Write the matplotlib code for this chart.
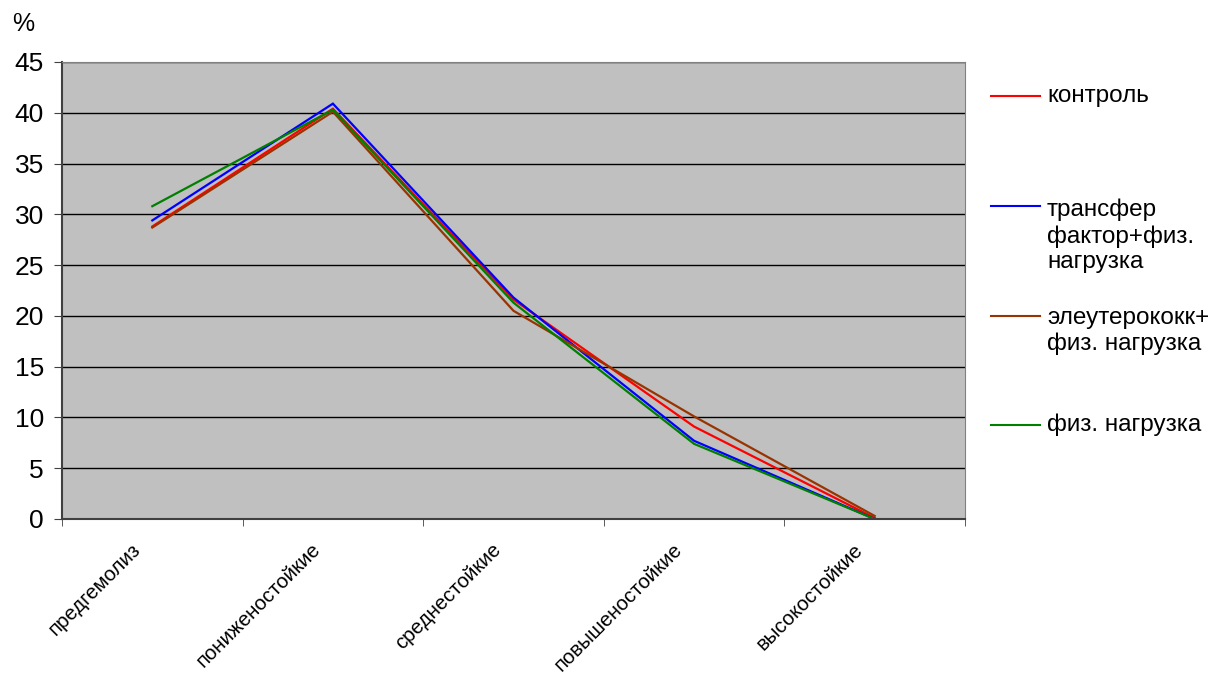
import matplotlib.pyplot as plt
from matplotlib.lines import Line2D
from matplotlib.transforms import ScaledTranslation
import numpy as np

plt.rcParams['font.family'] = ['Liberation Sans', 'DejaVu Sans']

categories = ['предгемолиз', 'пониженостойкие', 'среднестойкие',
              'повышеностойкие', 'высокостойкие']

control = [28.8, 40.4, 21.6, 9.1, 0.1]
transfer = [29.4, 40.9, 21.8, 7.7, 0.0]
eleuthero = [28.7, 40.1, 20.5, 10.1, 0.3]
exercise = [30.8, 40.3, 21.3, 7.4, 0.0]

series = [
    ('контроль', control, '#FF0000'),
    ('трансфер\nфактор+физ.\nнагрузка', transfer, '#0000FF'),
    ('элеутерококк+\nфиз. нагрузка', eleuthero, '#993300'),
    ('физ. нагрузка', exercise, '#008000'),
]

W, H = 1221, 678
fig = plt.figure(figsize=(W / 100, H / 100), dpi=100)
ax = fig.add_axes([62 / W, 1 - 519 / H, 903 / W, 457 / H])
ax.set_facecolor('#C0C0C0')

x = np.arange(len(categories)) + 0.5
for name, vals, color in series:
    ax.plot(x, vals, color=color, lw=1.6, solid_joinstyle='miter')

ax.set_xlim(0, len(categories))
ax.set_ylim(0, 45)
ax.set_yticks(np.arange(0, 46, 5))
ax.yaxis.grid(True, color='black', lw=1)
ax.set_axisbelow(True)

ax.set_xticks(x)
ax.set_xticklabels(categories, rotation=45, ha='right', va='center',
                   rotation_mode='anchor', fontsize=14.8)
ax.set_xticks(np.arange(len(categories) + 1), minor=True)
ax.tick_params(axis='x', which='major', length=0, pad=20)
ax.tick_params(axis='x', which='minor', length=5, direction='out', color='#404040')
ax.tick_params(axis='y', length=6, direction='out', labelsize=19, pad=7, color='#404040')

# nudge the slanted labels a little left of the category centre
shift = ScaledTranslation(-15 / 100, 0, fig.dpi_scale_trans)
for lab in ax.get_xticklabels():
    lab.set_transform(lab.get_transform() + shift)

for side in ('top', 'right'):
    ax.spines[side].set_color('#808080')
for side in ('left', 'bottom'):
    ax.spines[side].set_color('#404040')
    ax.spines[side].set_linewidth(1.5)

fig.text(23 / W, 1 - 24 / H, '%', fontsize=18, va='center', ha='center')

# legend drawn by hand to keep the uneven row spacing
legend_rows = [96, 206, 316, 425]
line_step = 30
for (name, vals, color), row in zip(series, legend_rows):
    yf = 1 - row / H
    fig.add_artist(Line2D([991 / W, 1040 / W], [yf, yf], color=color, lw=1.5))
    n = name.count('\n')
    fig.text(1047 / W, 1 - (row + n * line_step / 2) / H, name, fontsize=17.5,
             va='center', ha='left', linespacing=1.23)

fig.savefig('out.png', dpi=100)
